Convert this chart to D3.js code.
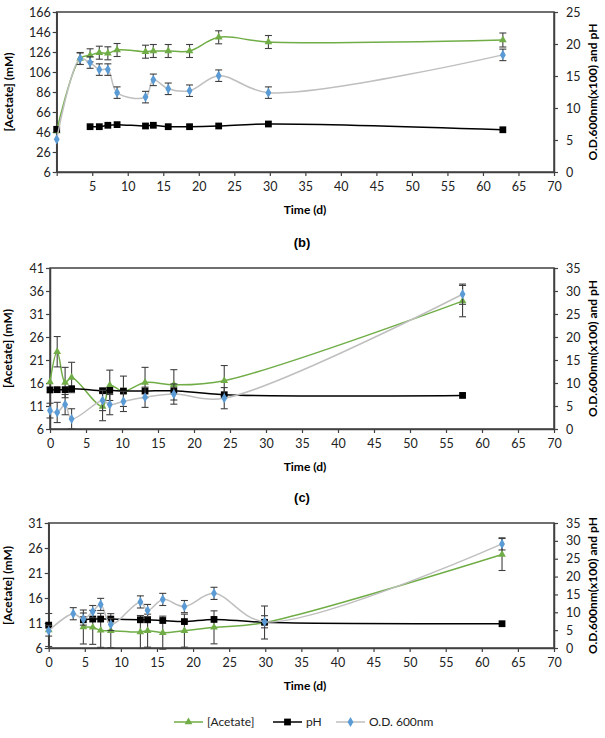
<!DOCTYPE html>
<html>
<head>
<meta charset="utf-8">
<script src="https://cdn.jsdelivr.net/npm/d3@7"></script>
<style>
  body { margin: 0; background: #fff; }
  svg { display: block; }
</style>
</head>
<body>
<div id="chart"></div>
<script>
"use strict"

/* Data: days, acetate (left axis, mM), pH and OD (right axis) */
let daysA = [0, 3.3, 4.7, 6.0, 7.2, 8.5, 12.5, 13.6, 15.7, 18.7, 22.8, 29.8, 62.8];
let acetateA = [47, 119.5, 122.7, 125.3, 124.7, 128, 126.3, 127, 127, 127, 140.7, 136, 138];
let acetateErrA = [0, 6, 6.5, 6.5, 6.5, 6.5, 6.5, 6.5, 6.5, 6.5, 6.5, 6.5, 7];
let phA = [6.67, null, 7.08, 7.08, 7.3, 7.4, 7.19, 7.3, 7.08, 7.08, 7.19, 7.5, 6.6];
let odA = [5.1, 17.7, 17.1, 16.0, 16.0, 12.4, 11.7, 14.4, 13.0, 12.7, 15.05, 12.4, 18.3];
let odErrA = [0, 0.9, 0.9, 0.9, 0.9, 0.9, 0.9, 0.9, 0.9, 0.9, 0.9, 0.9, 0.9];

let daysB = [0, 1.0, 2.1, 3.0, 7.3, 8.3, 10.2, 13.2, 17.2, 24.2, 57.3];
let acetateB = [16.2, 22.8, 16.1, 17.2, 10.9, 15.5, 14.2, 16.1, 15.6, 16.5, 33.8];
let acetateErrB = [0, 3.3, 3.3, 3.3, 3.1, 3.3, 3.3, 3.3, 3.3, 3.3, 3.4];
let phB = [8.5, 8.55, 8.55, 8.76, 8.32, 8.4, 8.25, 8.25, 8.32, 7.45, 7.3];
let odB = [4.0, 3.6, 5.3, 2.2, 6.2, 5.3, 6.0, 6.9, 7.6, 6.7, 29.3];
let odErrB = [1.6, 2.2, 2.2, 2.2, 2.2, 2.2, 2.2, 2.2, 2.2, 2.3, 2.2];

let daysC = [0, 3.4, 4.8, 6.1, 7.2, 8.6, 12.7, 13.7, 15.8, 18.8, 22.9, 29.9, 62.8];
let acetateC = [9.6, null, 10.2, 10.13, 9.53, 9.47, 9.2, 9.47, 9.07, 9.47, 10.13, 11.1, 24.7];
let acetateErrC = [3.3, 0, 3.4, 3.4, 3.4, 3.4, 3.3, 3.3, 3.3, 3.3, 3.3, 3.3, 3.2];
let phC = [6.4, null, 7.9, 8.1, 8.1, 8.1, 7.9, 7.9, 7.7, 7.4, 8.0, 7.2, 6.8];
let odC = [4.83, 9.6, 8.1, 10.2, 12.2, 6.6, 12.9, 10.5, 13.6, 11.6, 15.3, 7.35, 29.15];
let odErrC = [1.5, 1.7, 1.7, 1.7, 1.7, 1.7, 1.7, 1.7, 1.7, 1.7, 1.7, 1.7, 1.7];

/* Axis ticks */
let xTicks = [0, 5, 10, 15, 20, 25, 30, 35, 40, 45, 50, 55, 60, 65, 70];
let leftTicksA = [6, 26, 46, 66, 86, 106, 126, 146, 166];
let leftTicksB = [6, 11, 16, 21, 26, 31, 36, 41];
let leftTicksC = [6, 11, 16, 21, 26, 31];
let rightTicksA = [0, 5, 10, 15, 20, 25];
let rightTicksBC = [0, 5, 10, 15, 20, 25, 30, 35];

let seriesNames = ["[Acetate]", "pH", "O.D. 600nm"];

/* Drawing config */
let svgWidth = 605;
let svgHeight = 738;
let plotRight = 554;
let axisColor = "#404040";
let errColor = "#404040";
let acetateColor = "#70ad47";
let phColor = "#000000";
let odLineColor = "#bfbfbf";
let odMarkColor = "#5b9bd5";
let fontFamily = "Lato, 'Open Sans', sans-serif";

let svg = d3.select("#chart")
  .append("svg")
  .attr("width", svgWidth)
  .attr("height", svgHeight);

let triangle = d3.symbol().type(d3.symbolTriangle).size(26);
let square = d3.symbol().type(d3.symbolSquare).size(46);
let diamond = d3.symbol().type(d3.symbolDiamond).size(30);

function drawPanel(p) {
  let x = d3.scaleLinear().domain([0, 70]).range([p.left, plotRight]);
  let yL = d3.scaleLinear().domain(p.leftDomain).range([p.bottom, p.top]);
  let yR = d3.scaleLinear().domain(p.rightDomain).range([p.bottom, p.top]);

  let g = svg.append("g");

  // plot frame
  g.append("rect")
    .attr("x", p.left)
    .attr("y", p.top)
    .attr("width", plotRight - p.left)
    .attr("height", p.bottom - p.top)
    .attr("fill", "none")
    .attr("stroke", axisColor)
    .attr("stroke-width", 1.5);

  // x axis
  let xAxis = g.append("g")
    .attr("transform", "translate(0," + p.bottom + ")")
    .call(d3.axisBottom(x).tickValues(xTicks).tickSize(4).tickSizeOuter(0).tickPadding(6)
      .tickFormat(function(d) { return (d === 0 && !p.showZero) ? "" : d; }));

  let leftAxis = g.append("g")
    .attr("transform", "translate(" + p.left + ",0)")
    .call(d3.axisLeft(yL).tickValues(p.leftTicks).tickSize(4).tickSizeOuter(0).tickPadding(2));

  let rightAxis = g.append("g")
    .attr("transform", "translate(" + plotRight + ",0)")
    .call(d3.axisRight(yR).tickValues(p.rightTicks).tickSize(4).tickSizeOuter(0).tickPadding(8));

  [xAxis, leftAxis, rightAxis].forEach(function(a) {
    a.select(".domain").attr("stroke", axisColor).attr("stroke-width", 1.5);
    a.selectAll(".tick line").attr("stroke", axisColor).attr("stroke-width", 1.2);
    a.selectAll("text")
      .attr("font-family", fontFamily)
      .attr("font-size", "12.5px")
      .attr("fill", "#222");
  });

  // axis titles
  g.append("text")
    .attr("transform", "translate(" + p.leftTitleX + "," + ((p.top + p.bottom) / 2) + ") rotate(-90)")
    .attr("text-anchor", "middle")
    .attr("font-family", fontFamily)
    .attr("font-size", "12px")
    .attr("font-weight", "bold")
    .text("[Acetate] (mM)");

  g.append("text")
    .attr("transform", "translate(597," + ((p.top + p.bottom) / 2) + ") rotate(-90)")
    .attr("text-anchor", "middle")
    .attr("font-family", fontFamily)
    .attr("font-size", "12px")
    .attr("font-weight", "bold")
    .text("O.D.600nm(x100) and pH");

  g.append("text")
    .attr("x", 305)
    .attr("y", p.bottom + 42)
    .attr("text-anchor", "middle")
    .attr("font-family", fontFamily)
    .attr("font-size", "12px")
    .attr("font-weight", "bold")
    .text("Time (d)");

  if (p.label) {
    g.append("text")
      .attr("x", 302)
      .attr("y", p.top - 21)
      .attr("text-anchor", "middle")
      .attr("font-family", "'Liberation Sans', Arial, sans-serif")
      .attr("font-size", "13px")
      .attr("font-weight", "bold")
      .text(p.label);
  }

  let series = [
    {vals: p.acetate, err: p.acetateErr, y: yL, line: acetateColor, mark: acetateColor, sym: triangle},
    {vals: p.ph, err: null, y: yR, line: phColor, mark: phColor, sym: square},
    {vals: p.od, err: p.odErr, y: yR, line: odLineColor, mark: odMarkColor, sym: diamond}
  ];

  series.forEach(function(s) {
    let pts = p.days.map(function(d, i) {
      return {t: d, v: s.vals[i], e: s.err ? s.err[i] : 0};
    });
    let line = d3.line()
      .defined(function(d) { return d.v !== null; })
      .x(function(d) { return x(d.t); })
      .y(function(d) { return s.y(d.v); })
      .curve(d3.curveCatmullRom.alpha(0.5));

    g.append("path")
      .datum(pts)
      .attr("fill", "none")
      .attr("stroke", s.line)
      .attr("stroke-width", 1.5)
      .attr("d", line);

    let withErr = pts.filter(function(d) { return d.v !== null && d.e > 0; });
    let eb = g.append("g")
      .attr("stroke", errColor)
      .attr("stroke-width", 1.1);
    eb.selectAll("line.v")
      .data(withErr)
      .enter()
      .append("line")
      .attr("x1", function(d) { return x(d.t); })
      .attr("x2", function(d) { return x(d.t); })
      .attr("y1", function(d) { return s.y(d.v - d.e); })
      .attr("y2", function(d) { return s.y(d.v + d.e); });
    [-1, 1].forEach(function(sign) {
      eb.selectAll("line.c" + (sign + 1))
        .data(withErr)
        .enter()
        .append("line")
        .attr("x1", function(d) { return x(d.t) - 3.5; })
        .attr("x2", function(d) { return x(d.t) + 3.5; })
        .attr("y1", function(d) { return s.y(d.v + sign * d.e); })
        .attr("y2", function(d) { return s.y(d.v + sign * d.e); });
    });

    g.selectAll(null)
      .data(pts.filter(function(d) { return d.v !== null; }))
      .enter()
      .append("path")
      .attr("d", s.sym)
      .attr("fill", s.mark)
      .attr("transform", function(d) { return "translate(" + x(d.t) + "," + s.y(d.v) + ")"; });
  });
}

drawPanel({
  left: 56.7, top: 12, bottom: 172, showZero: false, leftTitleX: 13, label: null,
  leftDomain: [6, 166], rightDomain: [0, 25], leftTicks: leftTicksA, rightTicks: rightTicksA,
  days: daysA, acetate: acetateA, acetateErr: acetateErrA, ph: phA, od: odA, odErr: odErrA
});

drawPanel({
  left: 50, top: 268, bottom: 429, showZero: true, leftTitleX: 12, label: "(b)",
  leftDomain: [6, 41], rightDomain: [0, 35], leftTicks: leftTicksB, rightTicks: rightTicksBC,
  days: daysB, acetate: acetateB, acetateErr: acetateErrB, ph: phB, od: odB, odErr: odErrB
});

drawPanel({
  left: 48.7, top: 523, bottom: 648, showZero: true, leftTitleX: 12, label: "(c)",
  leftDomain: [6, 31], rightDomain: [0, 35], leftTicks: leftTicksC, rightTicks: rightTicksBC,
  days: daysC, acetate: acetateC, acetateErr: acetateErrC, ph: phC, od: odC, odErr: odErrC
});

/* Legend */
let legendY = 722;
let legendItems = [
  {name: seriesNames[0], x: 174, line: acetateColor, mark: acetateColor, sym: triangle},
  {name: seriesNames[1], x: 273, line: phColor, mark: phColor, sym: square},
  {name: seriesNames[2], x: 336, line: odLineColor, mark: odMarkColor, sym: diamond}
];
legendItems.forEach(function(it) {
  svg.append("line")
    .attr("x1", it.x).attr("x2", it.x + 29)
    .attr("y1", legendY).attr("y2", legendY)
    .attr("stroke", it.line)
    .attr("stroke-width", 1.5);
  svg.append("path")
    .attr("d", it.sym)
    .attr("fill", it.mark)
    .attr("transform", "translate(" + (it.x + 14.5) + "," + legendY + ")");
  svg.append("text")
    .attr("x", it.x + 33)
    .attr("y", legendY + 4)
    .attr("font-family", fontFamily)
    .attr("font-size", "12px")
    .attr("fill", "#222")
    .text(it.name);
});
</script>
</body>
</html>
